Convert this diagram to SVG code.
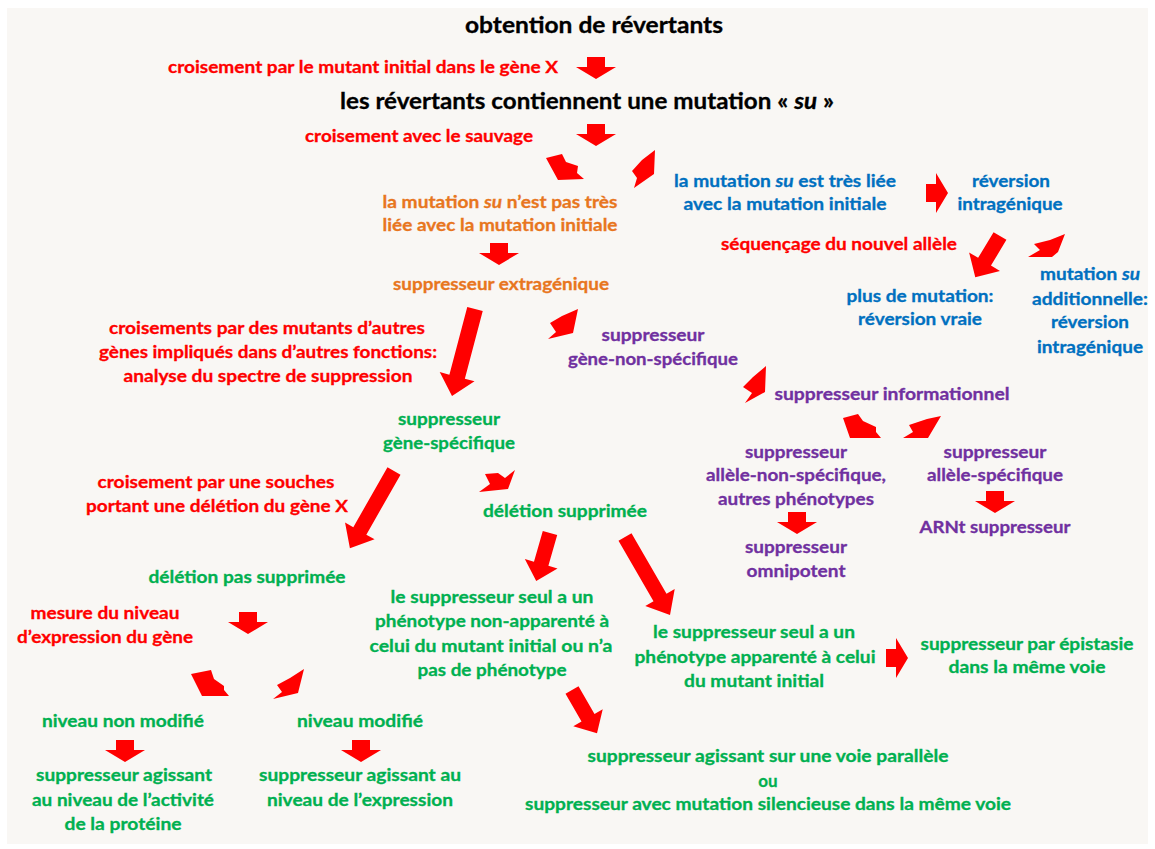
<svg xmlns="http://www.w3.org/2000/svg" xmlns:xlink="http://www.w3.org/1999/xlink" width="1155" height="849" viewBox="0 0 1155 849">
<style>
text{font-family:Lato,"Open Sans","Liberation Sans",sans-serif;font-weight:bold;font-size:17px;text-anchor:middle;fill:currentColor;stroke:currentColor;stroke-width:0.3px}
.big{font-size:22px}
.k{color:#000}.r{color:#FF0000}.o{color:#E8761E}.b{color:#0070C0}.p{color:#7030A0}.g{color:#00B050}
.ar{fill:#FF0000;stroke:none}
</style>
<defs>
<polygon id="dn" class="ar" points="-9,0 9,0 9,10 20,10 0,22 -20,10 -9,10"/>
</defs>
<rect x="0" y="0" width="1155" height="849" fill="#ffffff"/>
<rect x="7" y="8" width="1141" height="836" fill="#F9F7F4"/>

<g id="connectors">
<use xlink:href="#dn" href="#dn" x="596" y="57"/>
<use xlink:href="#dn" href="#dn" x="596" y="124"/>
<use xlink:href="#dn" href="#dn" x="499" y="243"/>
<use xlink:href="#dn" href="#dn" x="248" y="612"/>
<use xlink:href="#dn" href="#dn" x="125" y="740"/>
<use xlink:href="#dn" href="#dn" x="361" y="740"/>
<use xlink:href="#dn" href="#dn" x="797" y="512"/>
<use xlink:href="#dn" href="#dn" x="995" y="491"/>
<use xlink:href="#dn" href="#dn" transform="translate(926,193) rotate(-90)"/>
<use xlink:href="#dn" href="#dn" transform="translate(886,658) rotate(-90)"/>
<polygon class="ar" transform="translate(475,309) rotate(14.8)" points="-8,0 8,0 8,70 18,70 0,90 -18,70 -8,70"/>
<polygon class="ar" transform="translate(394,471) rotate(29.7)" points="-7.5,0 7.5,0 7.5,69 17,69 0,89 -17,69 -7.5,69"/>
<polygon class="ar" transform="translate(550,533) rotate(16)" points="-7.5,0 7.5,0 7.5,32 17,32 0,50 -17,32 -7.5,32"/>
<polygon class="ar" transform="translate(625,537) rotate(-30)" points="-7.5,0 7.5,0 7.5,70 17,70 0,90 -17,70 -7.5,70"/>
<polygon class="ar" transform="translate(572,690) rotate(-30)" points="-7.5,0 7.5,0 7.5,32 17,32 0,50 -17,32 -7.5,32"/>
<polygon class="ar" transform="translate(1000,236) rotate(31)" points="-7.5,0 7.5,0 7.5,30 18,30 0,48 -18,30 -7.5,30"/>
<polygon class="ar" points="546,158 562,154 566,162 578,166 577,173 584,179 558,180"/>
<polygon class="ar" points="655,150 654,174 634,188 637,178 632,171 642,160"/>
<polygon class="ar" points="1065,234 1058,252 1052,257 1028,257 1040,250 1034,244 1050,240"/>
<polygon class="ar" points="578,309 573,333 548,339 556,332 550,323 562,316"/>
<polygon class="ar" points="766,366 765,392 745,403 752,393 743,387 753,377"/>
<polygon class="ar" points="843,418 858,414 863,421 876,427 876,432 881,438 850,438"/>
<polygon class="ar" points="941,416 928,438 903,438 913,432 909,425 927,419"/>
<polygon class="ar" points="191,674 211,670 214,679 224,686 224,690 229,696 202,696"/>
<polygon class="ar" points="304,669 298,693 273,699 282,692 277,685 290,678"/>
<polygon class="ar" points="485,474 498,473 505,478 515,470 508,489 479,492 490,484"/>
</g>

<g id="n-title"><text class="big k" x="594" y="33" textLength="258" lengthAdjust="spacingAndGlyphs">obtention de révertants</text></g>
<g id="e-croisement-mutant"><text class="r" x="363" y="73" textLength="390" lengthAdjust="spacingAndGlyphs">croisement par le mutant initial dans le gène X</text></g>
<g id="n-revertants"><text class="big k" x="587" y="109" textLength="494" lengthAdjust="spacingAndGlyphs">les révertants contiennent une mutation « <tspan font-style="italic">su</tspan> »</text></g>
<g id="e-croisement-sauvage"><text class="r" x="419" y="142" textLength="228" lengthAdjust="spacingAndGlyphs">croisement avec le sauvage</text></g>
<g id="n-pas-liee">
<text class="o" x="500" y="208" textLength="235" lengthAdjust="spacingAndGlyphs">la mutation <tspan font-style="italic">su</tspan> n’est pas très</text>
<text class="o" x="500" y="231" textLength="235" lengthAdjust="spacingAndGlyphs">liée avec la mutation initiale</text>
</g>
<g id="n-extragenique"><text class="o" x="501" y="290" textLength="216" lengthAdjust="spacingAndGlyphs">suppresseur extragénique</text></g>
<g id="n-tres-liee">
<text class="b" x="785" y="187" textLength="222" lengthAdjust="spacingAndGlyphs">la mutation <tspan font-style="italic">su</tspan> est très liée</text>
<text class="b" x="785" y="210" textLength="203" lengthAdjust="spacingAndGlyphs">avec la mutation initiale</text>
</g>
<g id="n-reversion-intra">
<text class="b" x="1011" y="187" textLength="78" lengthAdjust="spacingAndGlyphs">réversion</text>
<text class="b" x="1010" y="210" textLength="105" lengthAdjust="spacingAndGlyphs">intragénique</text>
</g>
<g id="e-sequencage"><text class="r" x="839" y="250" textLength="236" lengthAdjust="spacingAndGlyphs">séquençage du nouvel allèle</text></g>
<g id="n-reversion-vraie">
<text class="b" x="920" y="302" textLength="147" lengthAdjust="spacingAndGlyphs">plus de mutation:</text>
<text class="b" x="920" y="325" textLength="124" lengthAdjust="spacingAndGlyphs">réversion vraie</text>
</g>
<g id="n-su-additionnelle">
<text class="b" x="1090" y="280" textLength="100" lengthAdjust="spacingAndGlyphs">mutation <tspan font-style="italic">su</tspan></text>
<text class="b" x="1090" y="305" textLength="116" lengthAdjust="spacingAndGlyphs">additionnelle:</text>
<text class="b" x="1090" y="328" textLength="78" lengthAdjust="spacingAndGlyphs">réversion</text>
<text class="b" x="1090" y="353" textLength="106" lengthAdjust="spacingAndGlyphs">intragénique</text>
</g>
<g id="e-spectre">
<text class="r" x="267" y="334" textLength="316" lengthAdjust="spacingAndGlyphs">croisements par des mutants d’autres</text>
<text class="r" x="268" y="358" textLength="338" lengthAdjust="spacingAndGlyphs">gènes impliqués dans d’autres fonctions:</text>
<text class="r" x="268" y="382" textLength="289" lengthAdjust="spacingAndGlyphs">analyse du spectre de suppression</text>
</g>
<g id="n-gene-specifique">
<text class="g" x="449" y="425" textLength="102" lengthAdjust="spacingAndGlyphs">suppresseur</text>
<text class="g" x="449" y="449" textLength="132" lengthAdjust="spacingAndGlyphs">gène-spécifique</text>
</g>
<g id="n-gene-non-specifique">
<text class="p" x="653" y="341" textLength="103" lengthAdjust="spacingAndGlyphs">suppresseur</text>
<text class="p" x="653" y="365" textLength="170" lengthAdjust="spacingAndGlyphs">gène-non-spécifique</text>
</g>
<g id="n-informationnel"><text class="p" x="892" y="400" textLength="235" lengthAdjust="spacingAndGlyphs">suppresseur informationnel</text></g>
<g id="n-allele-non-specifique">
<text class="p" x="796" y="458" textLength="102" lengthAdjust="spacingAndGlyphs">suppresseur</text>
<text class="p" x="796" y="481" textLength="180" lengthAdjust="spacingAndGlyphs">allèle-non-spécifique,</text>
<text class="p" x="796" y="505" textLength="156" lengthAdjust="spacingAndGlyphs">autres phénotypes</text>
</g>
<g id="n-allele-specifique">
<text class="p" x="995" y="458" textLength="103" lengthAdjust="spacingAndGlyphs">suppresseur</text>
<text class="p" x="995" y="481" textLength="136" lengthAdjust="spacingAndGlyphs">allèle-spécifique</text>
</g>
<g id="n-arnt"><text class="p" x="995" y="533" textLength="151" lengthAdjust="spacingAndGlyphs">ARNt suppresseur</text></g>
<g id="n-omnipotent">
<text class="p" x="796" y="553" textLength="102" lengthAdjust="spacingAndGlyphs">suppresseur</text>
<text class="p" x="796" y="577" textLength="99" lengthAdjust="spacingAndGlyphs">omnipotent</text>
</g>
<g id="e-deletion">
<text class="r" x="216" y="488" textLength="237" lengthAdjust="spacingAndGlyphs">croisement par une souches</text>
<text class="r" x="217" y="512" textLength="262" lengthAdjust="spacingAndGlyphs">portant une délétion du gène X</text>
</g>
<g id="n-deletion-supprimee"><text class="g" x="565" y="517" textLength="164" lengthAdjust="spacingAndGlyphs">délétion supprimée</text></g>
<g id="n-deletion-pas-supprimee"><text class="g" x="247" y="583" textLength="197" lengthAdjust="spacingAndGlyphs">délétion pas supprimée</text></g>
<g id="e-mesure">
<text class="r" x="105" y="619" textLength="149" lengthAdjust="spacingAndGlyphs">mesure du niveau</text>
<text class="r" x="105" y="643" textLength="176" lengthAdjust="spacingAndGlyphs">d’expression du gène</text>
</g>
<g id="n-non-apparente">
<text class="g" x="492" y="603" textLength="203" lengthAdjust="spacingAndGlyphs">le suppresseur seul a un</text>
<text class="g" x="492" y="627" textLength="234" lengthAdjust="spacingAndGlyphs">phénotype non-apparenté à</text>
<text class="g" x="491" y="652" textLength="243" lengthAdjust="spacingAndGlyphs">celui du mutant initial ou n’a</text>
<text class="g" x="492" y="676" textLength="149" lengthAdjust="spacingAndGlyphs">pas de phénotype</text>
</g>
<g id="n-apparente">
<text class="g" x="754" y="638" textLength="202" lengthAdjust="spacingAndGlyphs">le suppresseur seul a un</text>
<text class="g" x="755" y="663" textLength="241" lengthAdjust="spacingAndGlyphs">phénotype apparenté à celui</text>
<text class="g" x="754" y="687" textLength="140" lengthAdjust="spacingAndGlyphs">du mutant initial</text>
</g>
<g id="n-epistasie">
<text class="g" x="1027" y="650" textLength="213" lengthAdjust="spacingAndGlyphs">suppresseur par épistasie</text>
<text class="g" x="1027" y="673" textLength="157" lengthAdjust="spacingAndGlyphs">dans la même voie</text>
</g>
<g id="n-niveau-non-modifie"><text class="g" x="123" y="727" textLength="162" lengthAdjust="spacingAndGlyphs">niveau non modifié</text></g>
<g id="n-niveau-modifie"><text class="g" x="360" y="727" textLength="126" lengthAdjust="spacingAndGlyphs">niveau modifié</text></g>
<g id="n-activite">
<text class="g" x="124" y="781" textLength="176" lengthAdjust="spacingAndGlyphs">suppresseur agissant</text>
<text class="g" x="123" y="806" textLength="182" lengthAdjust="spacingAndGlyphs">au niveau de l’activité</text>
<text class="g" x="123" y="830" textLength="117" lengthAdjust="spacingAndGlyphs">de la protéine</text>
</g>
<g id="n-expression">
<text class="g" x="360" y="781" textLength="202" lengthAdjust="spacingAndGlyphs">suppresseur agissant au</text>
<text class="g" x="360" y="806" textLength="186" lengthAdjust="spacingAndGlyphs">niveau de l’expression</text>
</g>
<g id="n-voie-parallele">
<text class="g" x="768" y="762" textLength="361" lengthAdjust="spacingAndGlyphs">suppresseur agissant sur une voie parallèle</text>
<text class="g" x="768" y="787">ou</text>
<text class="g" x="768" y="810" textLength="486" lengthAdjust="spacingAndGlyphs">suppresseur avec mutation silencieuse dans la même voie</text>
</g>
</svg>
